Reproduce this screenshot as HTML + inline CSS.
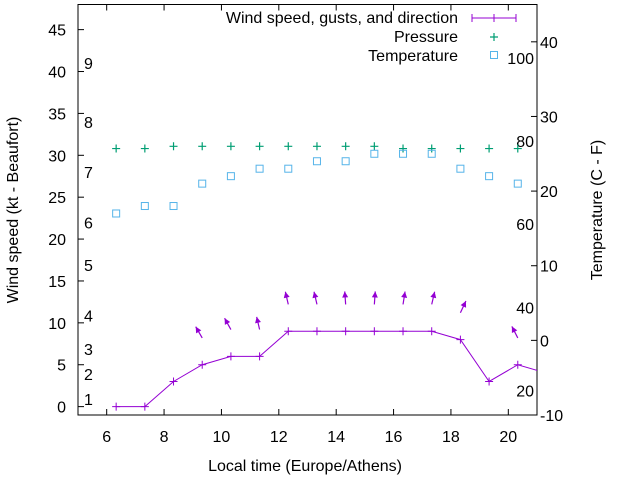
<!DOCTYPE html>
<html><head><meta charset="utf-8"><style>
body{margin:0;background:#fff;}
svg text{font-family:"Liberation Sans",sans-serif;font-size:16px;fill:#000;}
</style></head><body>
<svg id="chart" width="640" height="480" viewBox="0 0 640 480" xmlns="http://www.w3.org/2000/svg">
<rect width="640" height="480" fill="#fff"/>
<g id="axes"></g>
<g id="marks"></g>
<g id="legend"></g>
</svg>
<script>
const hours = [6.33,7.33,8.33,9.33,10.33,11.33,12.33,13.33,14.33,15.33,16.33,17.33,18.33,19.33,20.33,21.33];
const windSpeed = [0,0,3,5,6,6,9,9,9,9,9,9,8,3,5,4];
const arrowHours = [9.33,10.33,11.33,12.33,13.33,14.33,15.33,16.33,17.33,18.33,20.33];
const arrowSpeed = [5,6,6,9,9,9,9,9,9,8,5];
const arrowDir = [330,331,347,347,347,356,4,9,13,25,333];
const pressure = [25.7,25.7,26.0,26.0,26.0,26.0,26.0,26.0,26.0,26.0,25.7,25.7,25.7,25.7,25.7];
const temperature = [17,18,18,21,22,23,23,24,24,25,25,25,23,22,21];
const xTicks = [6,8,10,12,14,16,18,20];
const yTicks = [0,5,10,15,20,25,30,35,40,45];
const y2Ticks = [-10,0,10,20,30,40];
const beaufortLabels = ["1","2","3","4","5","6","7","8","9"];
const beaufortY = [0.9,3.9,6.9,10.9,16.9,22,28,34,41];
const fahrenheitLabels = ["20","40","60","80","100"];
const fahrenheitC = [-6.7,4.4,15.6,26.7,37.8];

const L=78,R=537,T=4.5,B=415;
const X=v=>L+(v-5)/16*(R-L);
const Y=v=>B-(v+1)/49*(B-T);
const Y2=v=>B-(v+10)/55*(B-T);
const NS="http://www.w3.org/2000/svg";
function mk(tag,attrs,parent,txt){const e=document.createElementNS(NS,tag);for(const k in attrs)e.setAttribute(k,attrs[k]);if(txt!==undefined)e.textContent=txt;parent.appendChild(e);return e;}
const ax=document.getElementById('axes'),mg=document.getElementById('marks'),lg=document.getElementById('legend');

let frame=mk('rect',{x:L,y:T,width:R-L,height:B-T,fill:'none',stroke:'#000','stroke-width':1},ax);


xTicks.forEach(v=>{
  let t=mk('line',{x1:X(v),x2:X(v),y1:B,y2:B-6,stroke:'#000'},ax);
  
  
  mk('line',{x1:X(v),x2:X(v),y1:T,y2:T+6,stroke:'#000'},ax);
  let l=mk('text',{x:X(v),y:B+27,'text-anchor':'middle'},ax,String(v));
  
  
});
yTicks.forEach(v=>{
  mk('line',{x1:L,x2:L+6,y1:Y(v),y2:Y(v),stroke:'#000'},ax);
  let l=mk('text',{x:L-12,y:Y(v)+6,'text-anchor':'end'},ax,String(v));
  
  
});
y2Ticks.forEach(v=>{
  mk('line',{x1:R,x2:R-6,y1:Y2(v),y2:Y2(v),stroke:'#000'},ax);
  let l=mk('text',{x:R+3,y:Y2(v)+6},ax,String(v));
  
  
});
beaufortLabels.forEach((s,i)=>{
  let l=mk('text',{x:84,y:Y(beaufortY[i])+6},ax,s);
  
  
});
fahrenheitLabels.forEach((s,i)=>{
  let l=mk('text',{x:534,y:Y2(fahrenheitC[i])+6,'text-anchor':'end'},ax,s);
  
  
});
let xt=mk('text',{x:305,y:471,'text-anchor':'middle'},ax,'Local time (Europe/Athens)');


let yt=mk('text',{x:0,y:0,'text-anchor':'middle',transform:'translate(18,210) rotate(-90)'},ax,'Wind speed (kt - Beaufort)');


let y2t=mk('text',{x:0,y:0,'text-anchor':'middle',transform:'translate(602,210) rotate(-90)'},ax,'Temperature (C - F)');



const defs=mk('defs',{},mg);
const cp=mk('clipPath',{id:'clip'},defs);
mk('rect',{x:L,y:T,width:R-L,height:B-T},cp);
const g=mk('g',{'clip-path':'url(#clip)'},mg);
const P='#9400d3';
let wl=mk('polyline',{points:hours.map((h,i)=>X(h)+','+Y(windSpeed[i])).join(' '),fill:'none',stroke:P,'stroke-width':1},g);


hours.forEach((h,i)=>{
  const x=X(h),y=Y(windSpeed[i]);
  let p=mk('path',{d:`M${x-4},${y}H${x+4}M${x},${y-4}V${y+4}`,stroke:P,'stroke-width':1},g);
  
  
});
arrowHours.forEach((h,i)=>{
  const x=X(h),y=Y(arrowSpeed[i]+3.2),a=arrowDir[i]*Math.PI/180,len=13;
  const hx=x+len*Math.sin(a),hy=y-len*Math.cos(a);
  const ux=Math.sin(a),uy=-Math.cos(a);
  const bx=hx-6*ux,by=hy-6*uy,px=-uy,py=ux;
  let ar=mk('g',{},g);
  
  
  mk('line',{x1:x,y1:y,x2:hx,y2:hy,stroke:P,'stroke-width':1.2},ar);
  mk('polygon',{points:`${hx},${hy} ${bx+3*px},${by+3*py} ${bx-3*px},${by-3*py}`,fill:P},ar);
});
const G='#009e73';
pressure.forEach((v,i)=>{
  const x=X(hours[i]),y=Y2(v);
  let p=mk('path',{d:`M${x-4},${y}H${x+4}M${x},${y-4}V${y+4}`,stroke:G,'stroke-width':1.2},g);
  
  
});
const C='#56b4e9';
temperature.forEach((v,i)=>{
  const x=X(hours[i]),y=Y2(v);
  let r=mk('rect',{x:x-3.5,y:y-3.5,width:7,height:7,fill:'none',stroke:C,'stroke-width':1},g);
  
  
});
let e1=mk('g',{},lg);
mk('text',{x:458,y:23,'text-anchor':'end'},e1,'Wind speed, gusts, and direction');
mk('path',{d:'M472,18H516M472,14V22M516,14V22M494,14V22',stroke:P,'stroke-width':1,fill:'none'},e1);
let e2=mk('g',{},lg);
mk('text',{x:458,y:42,'text-anchor':'end'},e2,'Pressure');
mk('path',{d:'M490,37H498M494,33V41',stroke:G,'stroke-width':1.2},e2);
let e3=mk('g',{},lg);
mk('text',{x:458,y:61,'text-anchor':'end'},e3,'Temperature');
mk('rect',{x:490.5,y:51.5,width:7,height:7,fill:'none',stroke:C},e3);
</script>
</body></html>
